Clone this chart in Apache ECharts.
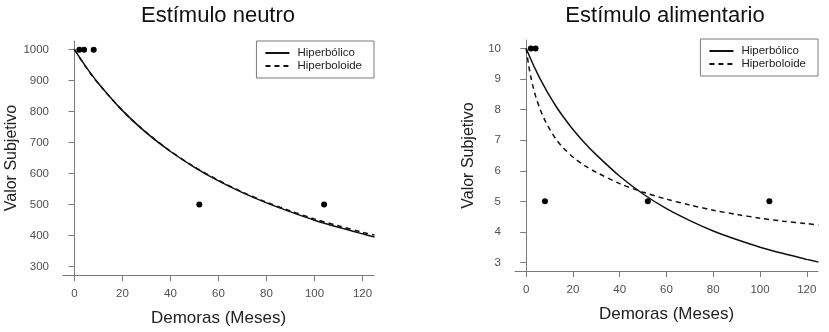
<!DOCTYPE html>
<html>
<head>
<meta charset="utf-8">
<script src="https://cdn.jsdelivr.net/npm/echarts@6/dist/echarts.min.js"></script>
<style>
  html, body { margin: 0; padding: 0; background: #fff; }
  #chart { width: 829px; height: 332px; }
</style>
</head>
<body>
<div id="chart"></div>
<script>
// observed points (same delays in both panels)
var delays = [2, 4, 8, 52, 104];
var neutroObs = [1000, 1000, 1000, 500, 500];
var alimObs = [10, 10, 5, 5, 5];

// fitted curves
var neutroX = [0, 5, 10, 20, 30, 40, 50, 60, 70, 80, 90, 100, 110, 120, 125];
var neutroHiperbolico = [1000, 942, 891, 803, 731, 671, 620, 576, 538, 505, 476, 449, 426, 405, 395];
var neutroHiperboloide = [1000, 941, 890, 803, 732, 672, 621, 578, 540, 507, 479, 453, 431, 410, 401];

var alimX = [0, 1, 2, 3, 4, 6, 8, 10, 13, 16, 20, 25, 30, 40, 50, 60, 70, 80, 90, 100, 110, 120, 125];
var alimHiperbolico = [10, 9.82, 9.64, 9.47, 9.31, 9.00, 8.72, 8.45, 8.08, 7.75, 7.35, 6.91, 6.52, 5.82, 5.24, 4.76, 4.37, 4.03, 3.75, 3.50, 3.29, 3.10, 3.01];
var alimHiperboloide = [10, 9.47, 9.06, 8.73, 8.45, 8.00, 7.65, 7.37, 7.01, 6.74, 6.45, 6.17, 5.95, 5.58, 5.30, 5.07, 4.88, 4.71, 4.57, 4.45, 4.35, 4.27, 4.23];

var xTicks = [0, 20, 40, 60, 80, 100, 120];
var neutroTicks = [300, 400, 500, 600, 700, 800, 900, 1000];
var alimTicks = [3, 4, 5, 6, 7, 8, 9, 10];

var titles = ['Estímulo neutro', 'Estímulo alimentario'];
var xName = 'Demoras (Meses)';
var yName = 'Valor Subjetivo';
var legendNames = ['Hiperbólico', 'Hiperboloide'];

function zip(xs, ys) {
  return xs.map(function (x, i) { return [x, ys[i]]; });
}

var font = 'Liberation Sans, Arial, sans-serif';
var axisGray = '#7a7a7a';
var labelGray = '#505050';

function xAxis(idx) {
  return {
    type: 'value', gridIndex: idx, min: -4.8, max: 124.8,
    name: xName, nameLocation: 'middle', nameGap: 35,
    nameTextStyle: { fontFamily: font, fontSize: 17, color: '#222' },
    axisLine: { show: true, lineStyle: { color: axisGray, width: 1 } },
    axisTick: { show: true, length: 6, inside: false, customValues: xTicks, lineStyle: { color: axisGray } },
    axisLabel: { customValues: xTicks, margin: 13, fontFamily: font, fontSize: 11.5, color: labelGray,
      formatter: function (v) { return String(v); } },
    splitLine: { show: false }
  };
}

function yAxis(idx, min, max, ticks, gap) {
  return {
    type: 'value', gridIndex: idx, min: min, max: max,
    name: yName, nameLocation: 'middle', nameGap: gap,
    nameTextStyle: { fontFamily: font, fontSize: 16, color: '#222' },
    axisLine: { show: true, lineStyle: { color: axisGray, width: 1 } },
    axisTick: { show: true, length: 6, inside: false, customValues: ticks, lineStyle: { color: axisGray } },
    axisLabel: { customValues: ticks, margin: 14, fontFamily: font, fontSize: 11.5, color: labelGray,
      formatter: function (v) { return String(v); } },
    splitLine: { show: false }
  };
}

function curve(name, idx, data, dashed) {
  return {
    name: name, type: 'line', xAxisIndex: idx, yAxisIndex: idx,
    data: data, showSymbol: false, symbol: 'none', smooth: 0.3,
    lineStyle: { color: '#111', width: 1.5, type: dashed ? [5, 4] : 'solid' },
    itemStyle: { color: '#111' },
    silent: true, animation: false
  };
}

function dots(idx, data) {
  return {
    name: 'Datos', type: 'scatter', xAxisIndex: idx, yAxisIndex: idx,
    data: data, symbolSize: 6, itemStyle: { color: '#000', opacity: 1 }, animation: false
  };
}

function legend(right, top) {
  return {
    data: legendNames, orient: 'vertical', right: right, top: top,
    itemWidth: 24, itemHeight: 12, itemGap: 1,
    padding: [6, 12, 6, 8],
    borderColor: axisGray, borderWidth: 1, borderRadius: 0,
    itemStyle: { color: 'transparent', opacity: 0, borderWidth: 0 },
    textStyle: { fontFamily: font, fontSize: 11.5, color: '#222', padding: [0, 0, 0, 3] },
    selectedMode: false
  };
}

var chart = echarts.init(document.getElementById('chart'), null, { renderer: 'canvas' });

chart.setOption({
  backgroundColor: '#fff',
  animation: false,
  graphic: [
    { type: 'text', x: 218, y: 16, style: { text: titles[0], font: '22px ' + font, fill: '#111', textAlign: 'center', textVerticalAlign: 'middle' } },
    { type: 'text', x: 665, y: 16, style: { text: titles[1], font: '22px ' + font, fill: '#111', textAlign: 'center', textVerticalAlign: 'middle' } }
  ],
  legend: [legend(829 - 374, 41), legend(829 - 818, 39)],
  grid: [
    { left: 63, top: 41, width: 311, height: 236 },
    { left: 515, top: 40, width: 303, height: 231 }
  ],
  xAxis: [xAxis(0), xAxis(1)],
  yAxis: [yAxis(0, 272, 1028, neutroTicks, 39), yAxis(1, 2.72, 10.28, alimTicks, 38)],
  series: [
    curve(legendNames[0], 0, zip(neutroX, neutroHiperbolico), false),
    curve(legendNames[1], 0, zip(neutroX, neutroHiperboloide), true),
    dots(0, zip(delays, neutroObs)),
    curve(legendNames[0], 1, zip(alimX, alimHiperbolico), false),
    curve(legendNames[1], 1, zip(alimX, alimHiperboloide), true),
    dots(1, zip(delays, alimObs))
  ]
});
</script>
</body>
</html>
